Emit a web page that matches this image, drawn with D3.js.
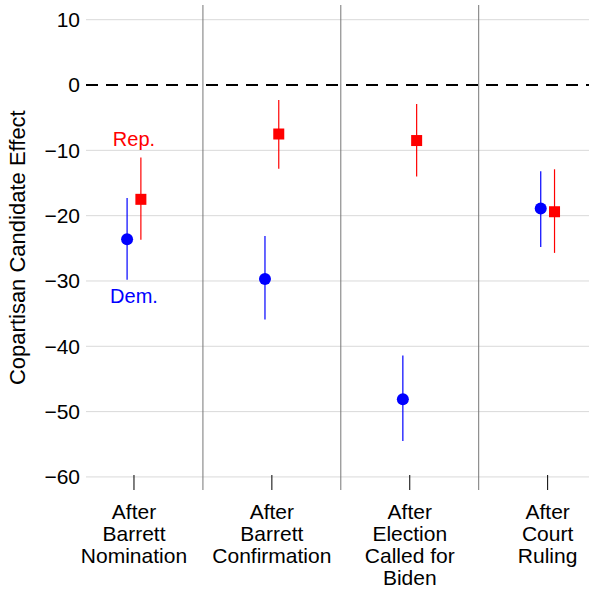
<!DOCTYPE html>
<html>
<head>
<meta charset="utf-8">
<script src="https://cdn.jsdelivr.net/npm/d3@7"></script>
<style>
  body { margin: 0; background: #fff; }
  text { font-family: "Liberation Sans", Arial, Helvetica, sans-serif; }
</style>
</head>
<body>
<div id="chart"></div>
<script>
// data
const periods = [
  ["After", "Barrett", "Nomination"],
  ["After", "Barrett", "Confirmation"],
  ["After", "Election", "Called for", "Biden"],
  ["After", "Court", "Ruling"]
];
const demEst = [-23.6, -29.7, -48.1, -18.9];
const demLow = [-29.8, -35.9, -54.5, -24.8];
const demHigh = [-17.3, -23.1, -41.4, -13.2];
const repEst = [-17.5, -7.5, -8.5, -19.4];
const repLow = [-23.7, -12.8, -14.0, -25.7];
const repHigh = [-11.1, -2.3, -2.9, -12.9];
const yTicks = [10, 0, -10, -20, -30, -40, -50, -60];

const width = 589, height = 589;
const svg = d3.select("#chart").append("svg")
  .attr("width", width)
  .attr("height", height);

const x = d3.scaleLinear().domain([0.652, 4.3]).range([86, 589]);
const y = d3.scaleLinear().domain([12.25, -62]).range([5, 490]);

// horizontal grid
svg.append("g").selectAll("line")
  .data(yTicks.filter(d => d !== 0))
  .enter().append("line")
  .attr("x1", x.range()[0]).attr("x2", width)
  .attr("y1", d => y(d)).attr("y2", d => y(d))
  .style("stroke", "#d9d9d9")
  .style("stroke-width", 1);

// period separators
svg.append("g").selectAll("line")
  .data([1.5, 2.5, 3.5])
  .enter().append("line")
  .attr("x1", d => x(d)).attr("x2", d => x(d))
  .attr("y1", y.range()[0]).attr("y2", y.range()[1])
  .style("stroke", "#777")
  .style("stroke-width", 1);

// zero line
svg.append("line")
  .attr("x1", x.range()[0]).attr("x2", width)
  .attr("y1", y(0)).attr("y2", y(0))
  .style("stroke", "#000")
  .style("stroke-width", 2)
  .style("stroke-dasharray", "12,8");

// y axis
const yAxis = svg.append("g")
  .attr("transform", `translate(${x.range()[0] - 5},0)`)
  .call(d3.axisLeft(y).tickValues(yTicks).tickSize(0).tickPadding(1)
    .tickFormat(d => d < 0 ? "\u2212" + Math.abs(d) : d));
yAxis.select(".domain").remove();
yAxis.selectAll("text")
  .style("font-size", "21px")
  .style("fill", "#000");

svg.append("text")
  .attr("transform", `translate(25,${y(-24.9)}) rotate(-90)`)
  .attr("text-anchor", "middle")
  .style("font-size", "22px")
  .text("Copartisan Candidate Effect");

// x axis ticks and labels
const idx = d3.range(periods.length);
svg.append("g").selectAll("line")
  .data(idx)
  .enter().append("line")
  .attr("x1", i => x(i + 1)).attr("x2", i => x(i + 1))
  .attr("y1", 475).attr("y2", 490)
  .style("stroke", "#000")
  .style("stroke-width", 1);

const labels = svg.append("g").selectAll("text")
  .data(idx)
  .enter().append("text")
  .attr("text-anchor", "middle")
  .attr("x", i => x(i + 1))
  .attr("y", 519)
  .style("font-size", "21px");
labels.selectAll("tspan")
  .data(i => periods[i].map(s => ({ s, i })))
  .enter().append("tspan")
  .attr("x", d => x(d.i + 1))
  .attr("dy", (d, j) => j === 0 ? 0 : 22)
  .text(d => d.s);

// error bars
const off = 0.05;
const series = [
  { est: demEst, low: demLow, high: demHigh, dx: -off, color: "#0000ff" },
  { est: repEst, low: repLow, high: repHigh, dx: off, color: "#ff0000" }
];
series.forEach(s => {
  svg.append("g").selectAll("line")
    .data(idx)
    .enter().append("line")
    .attr("x1", i => x(i + 1 + s.dx)).attr("x2", i => x(i + 1 + s.dx))
    .attr("y1", i => y(s.low[i])).attr("y2", i => y(s.high[i]))
    .style("stroke", s.color)
    .style("stroke-width", 1.2);
});

// Dem points
svg.append("g").selectAll("circle")
  .data(idx)
  .enter().append("circle")
  .attr("cx", i => x(i + 1 - off))
  .attr("cy", i => y(demEst[i]))
  .attr("r", 6)
  .style("fill", "#0000ff");

// Rep points
svg.append("g").selectAll("rect")
  .data(idx)
  .enter().append("rect")
  .attr("x", i => x(i + 1 + off) - 5.5)
  .attr("y", i => y(repEst[i]) - 5.5)
  .attr("width", 11).attr("height", 11)
  .style("fill", "#ff0000");

// series labels
svg.append("text")
  .attr("x", x(1)).attr("y", y(-8.3))
  .attr("text-anchor", "middle")
  .attr("dy", "0.35em")
  .style("font-size", "20px")
  .style("fill", "#ff0000")
  .text("Rep.");
svg.append("text")
  .attr("x", x(1)).attr("y", y(-32.3))
  .attr("text-anchor", "middle")
  .attr("dy", "0.35em")
  .style("font-size", "20px")
  .style("fill", "#0000ff")
  .text("Dem.");
</script>
</body>
</html>
